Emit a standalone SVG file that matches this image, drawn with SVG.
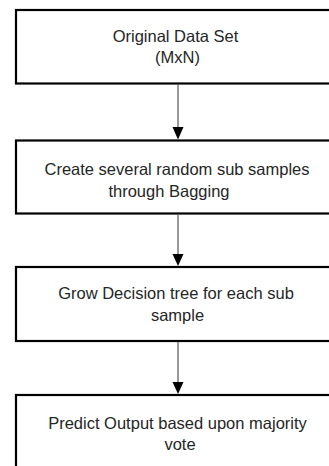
<svg xmlns="http://www.w3.org/2000/svg" width="329" height="466" viewBox="0 0 329 466">
<style>
.box{fill:#fff;stroke:#000;stroke-width:2.2}
.t{font-family:"Liberation Sans",Arial,sans-serif;font-size:16.5px;fill:#262626;text-anchor:middle}
.ln{stroke:#555;stroke-width:1.2;fill:none}
.hd{fill:#000}
</style>
<rect width="329" height="466" fill="#fff"/>
<g id="n1">
<rect class="box" x="16" y="10" width="340" height="73.5"/>
<text class="t" x="175.5" y="42">Original Data Set</text>
<text class="t" x="177.5" y="63">(MxN)</text>
</g>
<g id="n2">
<rect class="box" x="16" y="140.5" width="340" height="73"/>
<text class="t" x="177" y="175">Create several random sub samples</text>
<text class="t" x="169" y="197">through Bagging</text>
</g>
<g id="n3">
<rect class="box" x="16" y="267" width="340" height="74"/>
<text class="t" x="176" y="299">Grow Decision tree for each sub</text>
<text class="t" x="177.5" y="321">sample</text>
</g>
<g id="n4">
<rect class="box" x="16" y="395" width="340" height="90"/>
<text class="t" x="177.5" y="429">Predict Output based upon majority</text>
<text class="t" x="180" y="450">vote</text>
</g>
<g id="connectors">
<line class="ln" x1="178" y1="84.5" x2="178" y2="128"/>
<polygon class="hd" points="172.5,127 183.5,127 178,139.5"/>
<line class="ln" x1="178" y1="214.5" x2="178" y2="255"/>
<polygon class="hd" points="172.5,254 183.5,254 178,266"/>
<line class="ln" x1="178" y1="342" x2="178" y2="383"/>
<polygon class="hd" points="172.5,382 183.5,382 178,394"/>
</g>
</svg>
